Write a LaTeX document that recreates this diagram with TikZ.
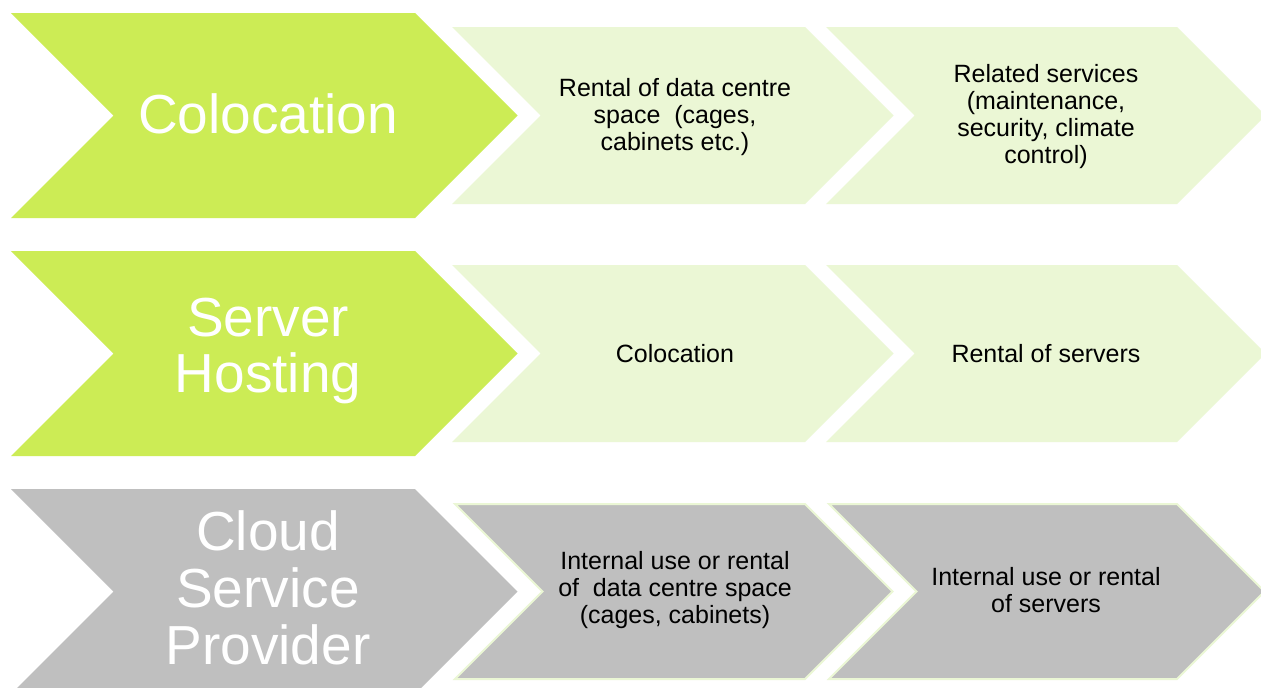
\documentclass[tikz,border=0pt]{standalone}
\usepackage{fontspec}
\setmainfont{Liberation Sans}
\definecolor{limegreen}{RGB}{204,236,85}
\definecolor{palegreen}{RGB}{235,247,213}
\definecolor{midgray}{RGB}{191,191,191}
\tikzset{
  leadfill/.style={fill=limegreen},
  stepfill/.style={fill=palegreen},
  greylead/.style={fill=midgray},
  greystep/.style={fill=midgray, draw=palegreen, line width=2pt, line join=miter},
  bigtext/.style={text=white, align=center, inner sep=0pt, font=\fontsize{55}{57}\selectfont},
  smalltext/.style={text=black, align=center, inner sep=0pt, font=\fontsize{25}{27}\selectfont},
}
% chevron: style, left x, centre y, half height, body width
\newcommand{\chevshape}[5]{%
  \path[#1] (#2,{#3-#4}) -- ({#2+#5},{#3-#4}) -- ({#2+#5+#4},#3)
    -- ({#2+#5},{#3+#4}) -- (#2,{#3+#4}) -- ({#2+#4},#3) -- cycle;}
\begin{document}
\begin{tikzpicture}[x=1pt,y=-1pt]
  \useasboundingbox (0,0) rectangle (1261,688);
  \clip (0,0) rectangle (1261,688);
  \fill[white] (0,0) rectangle (1261,688);

  % row 1: colocation
  \chevshape{leadfill}{11}{115.5}{102.5}{404}
  \chevshape{stepfill}{452}{115.5}{88.5}{353}
  \chevshape{stepfill}{826}{115.5}{88.5}{351}
  \node[bigtext] (colo) at (268,114) {Colocation};
  \node[smalltext] (coloA) at (675,117) {Rental of data centre\\space~ (cages,\\cabinets etc.)};
  \node[smalltext] (coloB) at (1046,117) {Related services\\(maintenance,\\security, climate\\control)};

  % row 2: server hosting
  \chevshape{leadfill}{11}{353.5}{102.5}{404}
  \chevshape{stepfill}{452}{353.5}{88.5}{353}
  \chevshape{stepfill}{826}{353.5}{88.5}{351}
  \node[bigtext] (host) at (268,351) {Server\\Hosting};
  \node[smalltext] (hostA) at (675,353.5) {Colocation};
  \node[smalltext] (hostB) at (1046,353.5) {Rental of servers};

  % row 3: cloud service provider
  \chevshape{greylead}{11}{591.5}{102.5}{404}
  \chevshape{greystep}{455}{591.5}{87.5}{350}
  \chevshape{greystep}{829}{591.5}{87.5}{348}
  \node[bigtext] (cloud) at (268,588) {Cloud\\Service\\Provider};
  \node[smalltext] (cloudA) at (675,590) {Internal use or rental\\of~ data centre space\\(cages, cabinets)};
  \node[smalltext] (cloudB) at (1046,590.5) {Internal use or rental\\of servers};
\end{tikzpicture}
\end{document}
